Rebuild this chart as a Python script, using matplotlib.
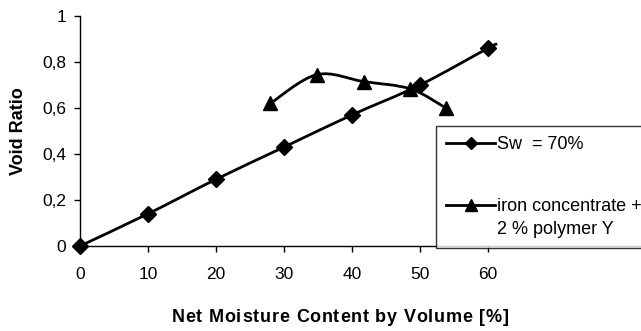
import numpy as np
import matplotlib
matplotlib.use("Agg")
import matplotlib.pyplot as plt
from matplotlib.path import Path
from matplotlib.patches import PathPatch
from matplotlib.lines import Line2D
from matplotlib.legend_handler import HandlerLine2D
from matplotlib.font_manager import FontProperties, findfont

plt.rcParams['font.family'] = ['Liberation Sans', 'DejaVu Sans']

# Data
sw_x = [0, 10, 20, 30, 40, 50, 60]
sw_y = [0.0, 0.14, 0.29, 0.43, 0.57, 0.70, 0.86]
sw_tail_x = [60, 61.3]
sw_tail_y = [0.86, 0.878]
fe_x = [28, 34.8, 41.7, 48.6, 53.8]
fe_y = [0.62, 0.745, 0.715, 0.683, 0.60]
label_sw = "Sw  = 70%"
label_fe = "iron concentrate +\n2 % polymer Y"
xlabel = "Net Moisture Content by Volume [%]"
ylabel = "Void Ratio"
xticks = [0, 10, 20, 30, 40, 50, 60]
yticks = [0, 0.2, 0.4, 0.6, 0.8, 1.0]
ytick_labels = ["0", "0,2", "0,4", "0,6", "0,8", "1"]


def smooth_path(xs, ys, t=1/6):
    pts = np.column_stack([xs, ys]).astype(float)
    n = len(pts)
    verts = [pts[0]]
    codes = [Path.MOVETO]
    for i in range(n - 1):
        p0 = pts[i - 1] if i > 0 else pts[i]
        p1 = pts[i]
        p2 = pts[i + 1]
        p3 = pts[i + 2] if i + 2 < n else pts[i + 1]
        c1 = p1 + (p2 - p0) * t
        c2 = p2 - (p3 - p1) * t
        verts += [c1, c2, p2]
        codes += [Path.CURVE4] * 3
    return Path(verts, codes)


class ShiftedHandler(HandlerLine2D):
    def __init__(self, dy=0.0, **kw):
        super().__init__(**kw)
        self.dy = dy

    def create_artists(self, legend, orig_handle, xdescent, ydescent, width, height, fontsize, trans):
        arts = super().create_artists(legend, orig_handle, xdescent, ydescent, width, height, fontsize, trans)
        for a in arts:
            a.set_ydata(np.asarray(a.get_ydata(), dtype=float) + self.dy)
        return arts


W, H = 641, 331
fig = plt.figure(figsize=(W / 100, H / 100), dpi=100)
ax = fig.add_axes([80 / W, 1 - 246 / H, (W - 80) / W, 230 / H])
ax.set_xlim(0, 82.5)
ax.set_ylim(0, 1)

lw = 2.0
ax.add_patch(PathPatch(smooth_path(sw_x + sw_tail_x[1:], sw_y + sw_tail_y[1:]),
                       fill=False, lw=lw, color='black', capstyle='butt'))
ax.plot(sw_x, sw_y, linestyle='none', marker='D', markersize=8, color='black', clip_on=False, zorder=3)
ax.add_patch(PathPatch(smooth_path(fe_x, fe_y), fill=False, lw=lw, color='black'))
ax.plot(fe_x, fe_y, linestyle='none', marker='^', markersize=10.5, color='black', clip_on=False, zorder=3)

for s in ['top', 'right']:
    ax.spines[s].set_visible(False)
for s in ['left', 'bottom']:
    ax.spines[s].set_linewidth(1.0)

ax.set_xticks(xticks)
ax.set_xticklabels([str(v) for v in xticks])
ax.set_yticks(yticks)
ax.set_yticklabels(ytick_labels)
ax.tick_params(direction='out', length=4, width=1, labelsize=12.5)
ax.tick_params(axis='x', pad=11)
ax.tick_params(axis='y', pad=6)

fig.text(19 / W, 1 - 131 / H, ylabel, rotation=90, ha='center', va='center',
         fontsize=13, fontweight='bold')

# x label with slight letter spacing
target_w = 337.0
cx, cy = 340.0, 318.0
try:
    from matplotlib.ft2font import FT2Font
    fp = FontProperties(family='Liberation Sans', weight='bold', size=13)
    font = FT2Font(findfont(fp))
    font.set_size(13, 100)
    advs = [font.load_char(ord(c)).linearHoriAdvance / 65536 for c in xlabel]
    extra = (target_w - sum(advs)) / (len(xlabel) - 1)
    x = cx - target_w / 2
    for c, a in zip(xlabel, advs):
        fig.text(x / W, 1 - cy / H, c, ha='left', va='center', fontsize=13, fontweight='bold')
        x += a + extra
except Exception:
    fig.text(cx / W, 1 - cy / H, xlabel, ha='center', va='center', fontsize=13, fontweight='bold')

h_sw = Line2D([], [], color='black', lw=lw, marker='D', markersize=6)
h_fe = Line2D([], [], color='black', lw=lw, marker='^', markersize=8)
leg = ax.legend([h_sw, h_fe], [label_sw, label_fe], loc='upper left',
                bbox_to_anchor=(436 / W, 1 - 126 / H), bbox_transform=fig.transFigure,
                frameon=True, fancybox=False, edgecolor='black', fontsize=13,
                handlelength=2.7, handletextpad=0.1, labelspacing=2.45, borderpad=0.57,
                borderaxespad=0,
                handler_map={h_fe: ShiftedHandler(dy=9.0)})
leg.get_frame().set_linewidth(1.0)
leg.get_texts()[1].set_linespacing(1.48)

fig.savefig("out.png", dpi=100)
